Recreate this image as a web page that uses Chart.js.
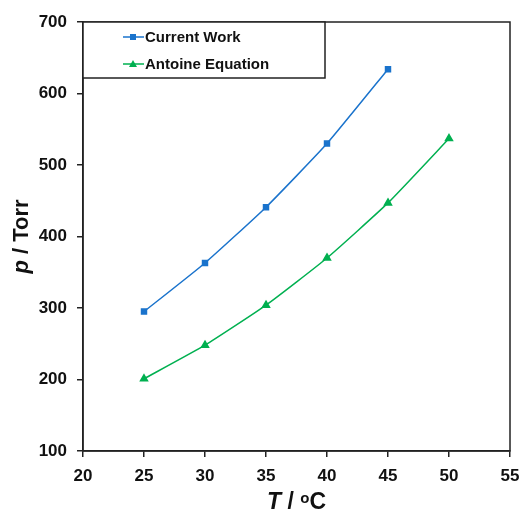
<!DOCTYPE html>
<html>
<head>
<meta charset="utf-8">
<script src="https://cdn.jsdelivr.net/npm/chart.js@4"></script>
<style>
  html, body { margin: 0; padding: 0; background: #fff; }
  #wrap { width: 524px; height: 510px; }
</style>
</head>
<body>
<div id="wrap"><canvas id="chart" width="524" height="510"></canvas></div>
<script>
// données
const currentT = [25, 30, 35, 40, 45];
const currentP = [295, 363, 441, 530, 634];
const antoineT = [25, 30, 35, 40, 45, 50];
const antoineP = [201, 248, 304, 370, 447, 537];
const xTicks = [20, 25, 30, 35, 40, 45, 50, 55];
const yTicks = [100, 200, 300, 400, 500, 600, 700];

const BLUE = '#1a73cc';
const GREEN = '#00b050';
const FONT = 'Liberation Sans, Arial, sans-serif';

function toPoints(xs, ys) {
  return xs.map((x, i) => ({ x: x, y: ys[i] }));
}

// cadre du graphique + légende encadrée + titres des axes
const framePlugin = {
  id: 'frame',
  afterDraw(chart) {
    const ctx = chart.ctx;
    const a = chart.chartArea;
    ctx.save();
    ctx.strokeStyle = '#222';
    ctx.lineWidth = 1.5;
    ctx.strokeRect(a.left, a.top, a.right - a.left, a.bottom - a.top);

    // légende
    const lx = a.left, ly = a.top, lw = 242, lh = 56;
    ctx.fillStyle = '#fff';
    ctx.fillRect(lx, ly, lw, lh);
    ctx.strokeRect(lx, ly, lw, lh);
    chart.data.datasets.forEach((ds, i) => {
      const y = ly + 15 + i * 27;
      ctx.strokeStyle = ds.borderColor;
      ctx.lineWidth = 1.5;
      ctx.beginPath();
      ctx.moveTo(lx + 40, y);
      ctx.lineTo(lx + 61, y);
      ctx.stroke();
      ctx.fillStyle = ds.borderColor;
      const cx = lx + 50;
      if (ds.pointStyle === 'rect') {
        ctx.fillRect(cx - 3, y - 3, 6, 6);
      } else {
        ctx.beginPath();
        ctx.moveTo(cx, y - 4);
        ctx.lineTo(cx + 4, y + 3);
        ctx.lineTo(cx - 4, y + 3);
        ctx.closePath();
        ctx.fill();
      }
      ctx.fillStyle = '#111';
      ctx.font = 'bold 15px ' + FONT;
      ctx.textBaseline = 'middle';
      ctx.textAlign = 'left';
      ctx.fillText(ds.label, lx + 62, y + 1);
    });

    // titre axe x : T / oC
    ctx.fillStyle = '#111';
    ctx.textBaseline = 'alphabetic';
    const cxT = (a.left + a.right) / 2;
    const yT = 509;
    const parts = [
      { t: 'T', f: 'italic bold 23px ' + FONT, dy: 0 },
      { t: ' / ', f: 'bold 23px ' + FONT, dy: 0 },
      { t: 'o', f: 'bold 15px ' + FONT, dy: -6 },
      { t: 'C', f: 'bold 23px ' + FONT, dy: 0 }
    ];
    let total = 0;
    parts.forEach(p => { ctx.font = p.f; p.w = ctx.measureText(p.t).width; total += p.w; });
    let x = cxT - total / 2;
    ctx.textAlign = 'left';
    parts.forEach(p => { ctx.font = p.f; ctx.fillText(p.t, x, yT + p.dy); x += p.w; });

    // titre axe y : p / Torr
    ctx.translate(28, (a.top + a.bottom) / 2);
    ctx.rotate(-Math.PI / 2);
    const yparts = [
      { t: 'p', f: 'italic bold 22px ' + FONT },
      { t: ' / Torr', f: 'bold 22px ' + FONT }
    ];
    total = 0;
    yparts.forEach(p => { ctx.font = p.f; p.w = ctx.measureText(p.t).width; total += p.w; });
    x = -total / 2;
    yparts.forEach(p => { ctx.font = p.f; ctx.fillText(p.t, x, 0); x += p.w; });
    ctx.restore();
  }
};

new Chart(document.getElementById('chart'), {
  type: 'scatter',
  data: {
    datasets: [
      {
        label: 'Current Work',
        data: toPoints(currentT, currentP),
        showLine: true,
        borderColor: BLUE,
        backgroundColor: BLUE,
        borderWidth: 1.5,
        pointStyle: 'rect',
        pointRadius: 3.5,
        tension: 0.15
      },
      {
        label: 'Antoine Equation',
        data: toPoints(antoineT, antoineP),
        showLine: true,
        borderColor: GREEN,
        backgroundColor: GREEN,
        borderWidth: 1.5,
        pointStyle: 'triangle',
        pointRadius: 4,
        tension: 0.15
      }
    ]
  },
  options: {
    responsive: false,
    animation: false,
    layout: { padding: { left: 0, right: 14, top: 22, bottom: 0 } },
    plugins: {
      legend: { display: false },
      tooltip: { enabled: false }
    },
    scales: {
      x: {
        type: 'linear',
        min: 20,
        max: 55,
        afterBuildTicks: (axis) => { axis.ticks = xTicks.map(v => ({ value: v })); },
        afterFit: (axis) => { axis.height = 59; axis.paddingLeft = 0; axis.paddingRight = 0; },
        grid: { drawOnChartArea: false, drawTicks: true, tickLength: 6, color: '#222', lineWidth: 1.5 },
        border: { display: true, color: '#222', width: 1.5 },
        ticks: { color: '#111', font: { family: FONT, size: 17, weight: 'bold' }, padding: 9, maxRotation: 0 }
      },
      y: {
        type: 'linear',
        min: 100,
        max: 700,
        afterBuildTicks: (axis) => { axis.ticks = yTicks.map(v => ({ value: v })); },
        afterFit: (axis) => { axis.width = 83; },
        grid: { drawOnChartArea: false, drawTicks: true, tickLength: 6, color: '#222', lineWidth: 1.5 },
        border: { display: true, color: '#222', width: 1.5 },
        ticks: { color: '#111', font: { family: FONT, size: 17, weight: 'bold' }, padding: 10 }
      }
    }
  },
  plugins: [framePlugin]
});
</script>
</body>
</html>
